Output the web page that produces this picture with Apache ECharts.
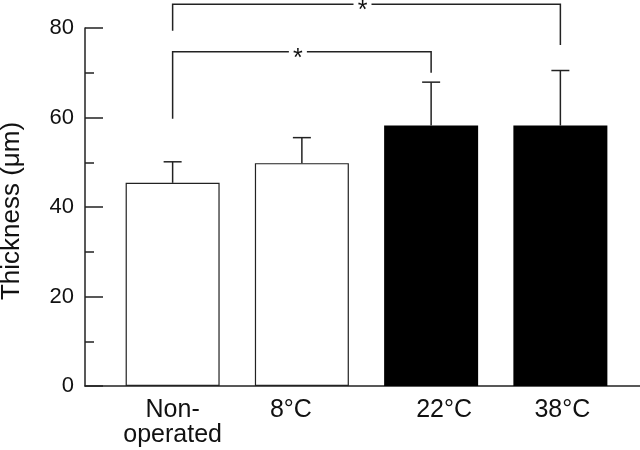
<!DOCTYPE html>
<html>
<head>
<meta charset="utf-8">
<script src="https://cdn.jsdelivr.net/npm/echarts@6/dist/echarts.min.js"></script>
<style>html,body{margin:0;padding:0;background:#fff}#c{width:640px;height:450px}</style>
</head>
<body>
<div id="c"></div>
<script>
var categories = ['Non-\noperated', '8°C', '22°C', '38°C'];
var labelShift = [0, -11, 13, 2];
var means = [45.4, 49.8, 58.2, 58.2];
var errors = [4.7, 5.7, 9.7, 12.3];
var barColors = ['#ffffff', '#ffffff', '#000000', '#000000'];
var yTicks = [0, 20, 40, 60, 80];
// brackets: [fromIndex, toIndex, level, leftLegBottom, rightLegBottom]
var bracketFrom = [0, 0];
var bracketTo = [2, 3];
var bracketLevel = [74.7, 85.3];
var bracketLeftEnd = [59.7, 79.4];
var bracketRightEnd = [70.0, 76.2];
var bracketMark = ['*', '*'];

var FONT = 'Liberation Sans, Arial, sans-serif';
var INK = '#222';

var catData = categories.map(function (c, i) {
  var s = labelShift[i];
  return {
    value: c,
    textStyle: { padding: s >= 0 ? [0, 0, 0, 2 * s] : [0, -2 * s, 0, 0] }
  };
});

var barData = means.map(function (m, i) {
  return {
    value: m,
    itemStyle: { color: barColors[i], borderColor: INK, borderWidth: barColors[i] === '#ffffff' ? 1.2 : 0 }
  };
});

var errData = means.map(function (m, i) { return [i, m, m + errors[i]]; });
var brData = bracketFrom.map(function (f, i) {
  return [f, bracketTo[i], bracketLevel[i], bracketLeftEnd[i], bracketRightEnd[i], i];
});

var chart = echarts.init(document.getElementById('c'), null, { renderer: 'canvas' });
chart.setOption({
  animation: false,
  backgroundColor: '#fff',
  grid: [
    { left: 85, right: 0, top: 28, bottom: 64, containLabel: false, outerBoundsMode: 'none' },
    { left: 108, right: 15, top: 28, bottom: 64, containLabel: false, outerBoundsMode: 'none' }
  ],
  xAxis: [
    {
      gridIndex: 0, type: 'value', min: 0, max: 1,
      axisLine: { show: true, onZero: false, lineStyle: { color: INK, width: 1.5 } },
      axisTick: { show: false }, axisLabel: { show: false }, splitLine: { show: false }
    },
    {
      gridIndex: 1, type: 'category', data: catData,
      axisLine: { show: false }, axisTick: { show: false },
      axisLabel: { color: '#111', fontFamily: FONT, fontSize: 25, lineHeight: 25, margin: 12, interval: 0 },
      splitLine: { show: false }
    }
  ],
  yAxis: [
    {
      gridIndex: 0, type: 'value', min: 0, max: 80, interval: 20,
      name: 'Thickness (μm)', nameLocation: 'middle', nameGap: 60,
      nameTextStyle: { color: '#111', fontFamily: FONT, fontSize: 26, padding: [0, 8, 0, 0] },
      axisLine: { show: true, lineStyle: { color: INK, width: 1.5 } },
      axisTick: { show: true, inside: true, length: 18, lineStyle: { color: INK, width: 1.5 } },
      minorTick: { show: true, splitNumber: 2, length: 9, lineStyle: { color: INK, width: 1.5 } },
      axisLabel: {
        color: '#111', fontFamily: FONT, fontSize: 22, margin: 11,
        formatter: function (v) { return yTicks.indexOf(v) >= 0 ? String(v) : ''; }
      },
      splitLine: { show: false }
    },
    {
      gridIndex: 1, type: 'value', min: 0, max: 80, interval: 20, show: false
    }
  ],
  series: [
    {
      type: 'bar', xAxisIndex: 1, yAxisIndex: 1, data: barData, barWidth: 94, z: 2
    },
    {
      type: 'custom', xAxisIndex: 1, yAxisIndex: 1, data: errData, z: 3, clip: false,
      renderItem: function (params, api) {
        var b = api.coord([api.value(0), api.value(1)]);
        var t = api.coord([api.value(0), api.value(2)]);
        var st = { stroke: INK, lineWidth: 1.5 };
        return {
          type: 'group',
          children: [
            { type: 'line', shape: { x1: b[0], y1: b[1], x2: t[0], y2: t[1] }, style: st },
            { type: 'line', shape: { x1: t[0] - 9, y1: t[1], x2: t[0] + 9, y2: t[1] }, style: st }
          ]
        };
      }
    },
    {
      type: 'custom', xAxisIndex: 1, yAxisIndex: 1, data: brData, z: 4, clip: false,
      renderItem: function (params, api) {
        var f = api.value(0), to = api.value(1), lv = api.value(2);
        var pL = api.coord([f, lv]);
        var pR = api.coord([to, lv]);
        var lB = api.coord([f, api.value(3)]);
        var rB = api.coord([to, api.value(4)]);
        var mid = (pL[0] + pR[0]) / 2 - 4;
        var gap = 9;
        var st = { stroke: INK, lineWidth: 1.5, fill: null };
        return {
          type: 'group',
          children: [
            { type: 'polyline', shape: { points: [[lB[0], lB[1]], [pL[0], pL[1]], [mid - gap, pL[1]]] }, style: st },
            { type: 'polyline', shape: { points: [[mid + gap, pR[1]], [pR[0], pR[1]], [rB[0], rB[1]]] }, style: st },
            { type: 'text', x: mid, y: pL[1] + 7, style: {
                text: bracketMark[api.value(5)], fill: '#111', font: '25px ' + FONT,
                align: 'center', verticalAlign: 'middle'
              } }
          ]
        };
      }
    }
  ]
});
</script>
</body>
</html>
